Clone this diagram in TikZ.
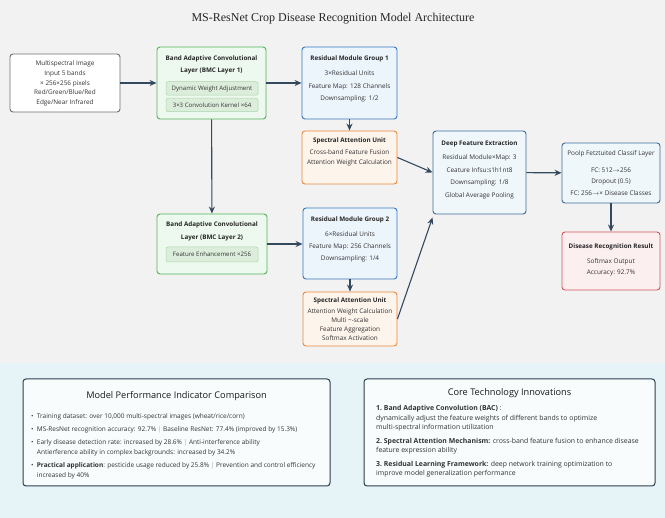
\documentclass[tikz,border=0pt]{standalone}
\usepackage{fontspec}
\setmainfont{Open Sans}
\newfontfamily\titlefont{Liberation Serif}
\usepackage{tikz}
\usetikzlibrary{arrows.meta}

\definecolor{bgtop}{HTML}{F2F2F2}
\definecolor{bgbottom}{HTML}{E6F4F7}
\definecolor{arrowc}{HTML}{34495E}
\definecolor{graybd}{HTML}{707070}
\definecolor{greenbd}{HTML}{52B35A}
\definecolor{greenfill}{HTML}{EDF9EE}
\definecolor{greenin}{HTML}{DCEEDB}
\definecolor{greeninbd}{HTML}{A9D5A9}
\definecolor{bluebd}{HTML}{3678BC}
\definecolor{bluefill}{HTML}{EDF5FC}
\definecolor{orangebd}{HTML}{E8893C}
\definecolor{orangefill}{HTML}{FDF4EC}
\definecolor{steelbd}{HTML}{3C6E98}
\definecolor{steelfill}{HTML}{F0F7FB}
\definecolor{redbd}{HTML}{D3545A}
\definecolor{redfill}{HTML}{FCEFF0}
\definecolor{panelbd}{HTML}{2C3E50}
\definecolor{textc}{HTML}{333333}

\begin{document}
\begin{tikzpicture}[x=1pt, y=-1pt,
    box/.style={draw, rounded corners=3pt, line width=0.9pt},
    inbox/.style={draw=greeninbd, fill=greenin, rounded corners=2pt, line width=0.5pt,
        minimum width=92pt, minimum height=13.5pt, inner sep=0pt,
        font=\fontsize{6.1}{6.5}\selectfont, text=textc},
    head/.style={font=\fontsize{6.3}{12}\selectfont\bfseries, text=black!85, align=center, inner sep=0pt},
    body/.style={font=\fontsize{6.4}{12}\selectfont, text=textc, align=center, inner sep=0pt},
    flow/.style={draw=arrowc, line width=1.1pt, -{Stealth[length=7pt, width=6pt]}},
    panel/.style={draw=panelbd, fill=white!70!bgbottom, rounded corners=3pt, line width=1pt},
    ptitle/.style={font=\fontsize{9.2}{11}\selectfont, text=black!90, inner sep=0pt},
    pitem/.style={anchor=west, align=left, inner sep=0pt, text=textc}]

    \useasboundingbox (0,0) rectangle (665,518);
    \fill[bgtop] (0,0) rectangle (665,363);
    \fill[bgbottom] (0,363) rectangle (665,518);

    % Title
    \node[font=\titlefont\fontsize{12}{13}\selectfont, text=black!85] (title) at (333,19)
        {MS-ResNet Crop Disease Recognition Model Architecture};

    % Nodes
    \node[box, draw=graybd, fill=white, minimum width=110pt, minimum height=58pt] (input) at (65,83) {};
    \node[body, font=\fontsize{6.4}{9.8}\selectfont] (inputtxt) at (65,83.5)
        {Multispectral Image\\Input 5 bands\\× 256×256 pixels\\Red/Green/Blue/Red\\Edge/Near Infrared};

    \node[box, draw=greenbd, fill=greenfill, minimum width=109pt, minimum height=72pt] (bmc1) at (211.5,83) {};
    \node[head] (bmc1head) at (211.5,65) {Band Adaptive Convolutional\\Layer (BMC Layer 1)};
    \node[inbox] (bmc1a) at (212,88.5) {Dynamic Weight Adjustment};
    \node[inbox] (bmc1b) at (212,105) {3×3 Convolution Kernel ×64};

    \node[box, draw=bluebd, fill=bluefill, minimum width=95pt, minimum height=72pt] (rmg1) at (349.5,83) {};
    \node[head] (rmg1head) at (349.5,59) {Residual Module Group 1};
    \node[body, font=\fontsize{6.4}{12.5}\selectfont] (rmg1txt) at (349.5,86.5)
        {3×Residual Units\\Feature Map: 128 Channels\\Downsampling: 1/2};

    \node[box, draw=orangebd, fill=orangefill, minimum width=95pt, minimum height=53pt] (sau1) at (349.5,157.5) {};
    \node[head] (sau1head) at (349.5,141) {Spectral Attention Unit};
    \node[body, font=\fontsize{6.4}{10}\selectfont] (sau1txt) at (349.5,158)
        {Cross-band Feature Fusion\\Attention Weight Calculation};

    \node[box, draw=greenbd, fill=greenfill, minimum width=110pt, minimum height=60pt] (bmc2) at (212,244) {};
    \node[head, font=\fontsize{6.3}{13}\selectfont\bfseries] (bmc2head) at (212,231.5) {Band Adaptive Convolutional\\Layer (BMC Layer 2)};
    \node[inbox, minimum height=15pt] (bmc2a) at (212,254.5) {Feature Enhancement ×256};

    \node[box, draw=bluebd, fill=bluefill, minimum width=94pt, minimum height=71pt] (rmg2) at (350,243.5) {};
    \node[head] (rmg2head) at (350,220) {Residual Module Group 2};
    \node[body] (rmg2txt) at (350,247)
        {6×Residual Units\\Feature Map: 256 Channels\\Downsampling: 1/4};

    \node[box, draw=orangebd, fill=orangefill, minimum width=94pt, minimum height=54pt] (sau2) at (350,319) {};
    \node[head] (sau2head) at (350,301) {Spectral Attention Unit};
    \node[body, font=\fontsize{6.4}{9}\selectfont] (sau2txt) at (350,324.5)
        {Attention Weight Calculation\\Multi \textasciitilde-scale\\Feature Aggregation\\Softmax Activation};

    \node[box, draw=steelbd, fill=steelfill, minimum width=93pt, minimum height=83pt] (dfe) at (479.5,172.5) {};
    \node[head] (dfehead) at (479.5,144) {Deep Feature Extraction};
    \node[body, font=\fontsize{6.4}{12.6}\selectfont] (dfetxt) at (479.5,177)
        {Residual Module×Map: 3\\Ceature Infsu:s1h1nt8\\Downsampling: 1/8\\Global Average Pooling};

    \node[box, draw=steelbd, fill=steelfill, minimum width=98pt, minimum height=60pt] (fc) at (611,173) {};
    \node[body] (fchead) at (611,154) {Poolp Fetztuited Classif Layer};
    \node[body, font=\fontsize{6.4}{11.5}\selectfont] (fctxt) at (611,181.5)
        {FC: 512$\rightarrow$256\\Dropout (0.5)\\FC: 256$\rightarrow$× Disease Classes};

    \node[box, draw=redbd, fill=redfill, minimum width=98pt, minimum height=58pt] (drr) at (611,261) {};
    \node[head] (drrhead) at (611,247) {Disease Recognition Result};
    \node[body, font=\fontsize{6.4}{11}\selectfont] (drrtxt) at (611,267.5)
        {Softmax Output\\Accuracy: 92.7\%};

    % Edges
    \draw[flow] (input) -- (bmc1);
    \draw[flow] (bmc1) -- (rmg1);
    \draw[flow] (rmg1) -- (sau1);
    \draw[flow] (bmc1) -- (bmc2);
    \draw[flow] (bmc2) -- (rmg2.west |- bmc2);
    \draw[flow] (rmg2) -- (sau2);
    \draw[flow] (sau1.east) -- (dfe.west);
    \draw[flow] (sau2.east) -- ([yshift=-3pt]dfe.south west);
    \draw[flow] (dfe) -- (fc);
    \draw[flow] (fc) -- (drr);

    % Panels
    \node[panel, minimum width=307pt, minimum height=107pt] (perf) at (176.5,432.5) {};
    \node[ptitle] (perfhead) at (176.5,396) {Model Performance Indicator Comparison};
    \begin{scope}[every node/.append style={font=\fontsize{6.5}{10}\selectfont}]
        \node[pitem] (p1) at (31,417) {\textbullet\enspace Training dataset: over 10,000 multi-spectral images (wheat/rice/corn)};
        \node[pitem] (p2) at (31,430) {\textbullet\enspace MS-ResNet recognition accuracy: 92.7\% \textcolor{black!35}{|} Baseline ResNet: 77.4\% (improved by 15.3\%)};
        \node[pitem] (p3) at (31,448) {\textbullet\enspace Early disease detection rate: increased by 28.6\% \textcolor{black!35}{|} Anti-interference ability\\\phantom{\textbullet\enspace}Antierference ability in complex backgrounds: increased by 34.2\%};
        \node[pitem] (p4) at (31,471) {\textbullet\enspace \textbf{Practical application}: pesticide usage reduced by 25.8\% \textcolor{black!35}{|} Prevention and control efficiency\\\phantom{\textbullet\enspace}increased by 40\%};
    \end{scope}

    \node[panel, minimum width=291pt, minimum height=107pt] (core) at (509.5,432.5) {};
    \node[ptitle] (corehead) at (509.5,393) {Core Technology Innovations};
    \begin{scope}[every node/.append style={font=\fontsize{6.9}{9.5}\selectfont}]
        \node[pitem] (c1) at (376,418.5) {\textbf{1.\ Band Adaptive Convolution (BAC)} :\\dynamically adjust the feature weights of different bands to optimize\\multi-spectral information utilization};
        \node[pitem] (c2) at (376,446) {\textbf{2.\ Spectral Attention Mechanism:} cross-band feature fusion to enhance disease\\feature expression ability};
        \node[pitem] (c3) at (376,469) {\textbf{3.\ Residual Learning Framework:} deep network training optimization to\\improve model generalization performance};
    \end{scope}
\end{tikzpicture}
\end{document}
